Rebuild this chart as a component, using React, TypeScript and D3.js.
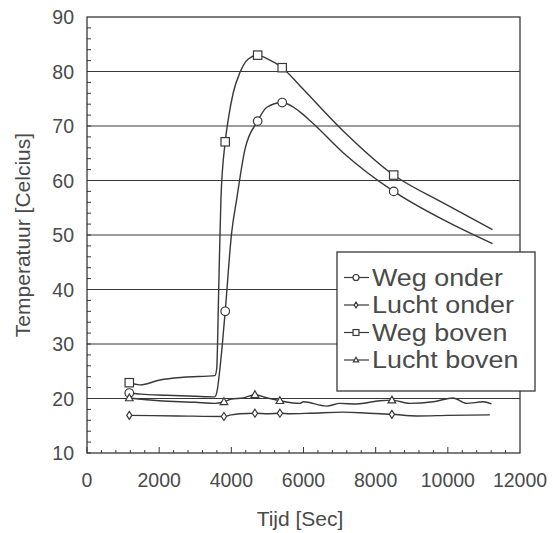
import React from 'react';
import * as d3 from 'd3';

// tijd [s], temperatuur [C]
const wegOnder: [number, number][] = [
  [1172, 21.0], [1500, 20.8], [2200, 20.6], [3000, 20.4], [3546, 20.3], [3600, 21.2],
  [3700, 26.5], [3830, 36], [4008, 50.4], [4147, 56.5], [4377, 65.7], [4730, 70.9],
  [4977, 73.4], [5410, 74.3], [5900, 72.6], [6260, 70.5], [7100, 65.1], [8500, 58.0],
  [9870, 52.8], [11238, 48.4],
];
const wegOnderMarks: [number, number][] = [[1172, 21.0], [3830, 36], [4730, 70.9], [5410, 74.3], [8500, 58.0]];

const wegBoven: [number, number][] = [
  [1172, 22.9], [1468, 22.5], [2022, 23.4], [2668, 23.9], [3546, 24.2], [3595, 25.5],
  [3650, 40], [3711, 56.5], [3830, 67.1], [3915, 71.2], [4053, 76.1], [4238, 79.8],
  [4470, 82.3], [4730, 83.0], [5000, 82.3], [5410, 80.7], [5900, 77.4], [7100, 69.1],
  [8500, 61.0], [9870, 55.9], [11238, 51.0],
];
const wegBovenMarks: [number, number][] = [[1172, 22.9], [3830, 67.1], [4730, 83.0], [5410, 80.7], [8500, 61.0]];

const luchtOnder: [number, number][] = [
  [1172, 16.9], [2500, 16.8], [3795, 16.7], [4000, 17.0], [4238, 17.2], [4654, 17.3],
  [5000, 17.2], [5346, 17.3], [5623, 17.2], [6200, 17.3], [7100, 17.5], [7800, 17.3],
  [8450, 17.1], [9133, 16.8], [10000, 16.9], [11163, 17.0],
];
const luchtOnderMarks: [number, number][] = [[1172, 16.9], [3795, 16.7], [4654, 17.3], [5346, 17.3], [8450, 17.1]];

const luchtBoven: [number, number][] = [
  [1172, 20.1], [2000, 19.6], [3000, 19.3], [3546, 19.1], [3795, 19.4], [4000, 19.9],
  [4330, 20.1], [4654, 20.7], [5000, 20.1], [5346, 19.6], [5900, 19.1], [5992, 19.4],
  [6640, 18.6], [7008, 19.1], [7470, 19.0], [8116, 19.6], [8450, 19.7], [8947, 19.1],
  [9593, 19.4], [10147, 20.1], [10517, 19.1], [10979, 19.4], [11210, 19.0],
];
const luchtBovenMarks: [number, number][] = [[1172, 20.1], [3795, 19.4], [4654, 20.7], [5346, 19.6], [8450, 19.7]];

const legendLabels = ['Weg onder', 'Lucht onder', 'Weg boven', 'Lucht boven'];
const yTicks = [10, 20, 30, 40, 50, 60, 70, 80, 90];
const xTicks = [0, 2000, 4000, 6000, 8000, 10000, 12000];

const ink = '#383838';
const textInk = '#4a4a4a';
const font = 'Liberation Sans, Arial, Helvetica, sans-serif';

function Marker({ type, x, y, s = 1 }: { type: string; x: number; y: number; s?: number }) {
  const p = { fill: '#fff', stroke: ink, strokeWidth: 1.2 };
  if (type === 'circle') return <circle cx={x} cy={y} r={4.3 * s} {...p} />;
  if (type === 'square') return <rect x={x - 4.2 * s} y={y - 4.2 * s} width={8.4 * s} height={8.4 * s} {...p} />;
  if (type === 'diamond')
    return <path d={`M${x},${y - 4 * s}L${x + 2.6 * s},${y}L${x},${y + 4 * s}L${x - 2.6 * s},${y}Z`} {...p} />;
  return <path d={`M${x},${y - 4 * s}L${x + 3.8 * s},${y + 2.8 * s}L${x - 3.8 * s},${y + 2.8 * s}Z`} {...p} />;
}

export default function App() {
  const left = 87, right = 520, top = 17, bottom = 453;
  const x = d3.scaleLinear().domain([0, 12000]).range([left, right]);
  const y = d3.scaleLinear().domain([10, 90]).range([bottom, top]);
  const line = d3.line<[number, number]>().x(d => x(d[0])).y(d => y(d[1])).curve(d3.curveMonotoneX);

  const series = [
    { data: wegOnder, marks: wegOnderMarks, type: 'circle' },
    { data: luchtOnder, marks: luchtOnderMarks, type: 'diamond' },
    { data: wegBoven, marks: wegBovenMarks, type: 'square' },
    { data: luchtBoven, marks: luchtBovenMarks, type: 'triangle' },
  ];

  const yMinor = d3.range(10, 90, 2);
  const xMinor = d3.range(0, 12000, 400);

  return (
    <svg width={553} height={533} style={{ position: 'absolute', left: 0, top: 0, background: '#fff' }}>
      {/* grid */}
      {yTicks.slice(1, -1).map(t => (
        <line key={'g' + t} x1={left} x2={right} y1={y(t)} y2={y(t)} stroke={ink} strokeWidth={1} />
      ))}
      {/* minor ticks */}
      {yMinor.map(t => (
        <line key={'ym' + t} x1={left} x2={left + 4} y1={y(t)} y2={y(t)} stroke={ink} strokeWidth={1} />
      ))}
      {xMinor.map(t => (
        <line key={'xm' + t} x1={x(t)} x2={x(t)} y1={bottom} y2={bottom - (t % 2000 === 0 ? 6 : 3)} stroke={ink} strokeWidth={1} />
      ))}
      <rect x={left} y={top} width={right - left} height={bottom - top} fill="none" stroke={ink} strokeWidth={1.3} />

      {series.map((s, i) => (
        <g key={i}>
          <path d={line(s.data) || ''} fill="none" stroke={ink} strokeWidth={1.4} />
          {s.marks.map((m, j) => (
            <Marker key={j} type={s.type} x={x(m[0])} y={y(m[1])} />
          ))}
        </g>
      ))}

      {/* axis labels */}
      {yTicks.map(t => (
        <text key={'yl' + t} x={74} y={y(t)} dy="0.36em" textAnchor="end" fontSize={19.5} fontFamily={font} fill={textInk}>
          {t}
        </text>
      ))}
      {xTicks.map(t => (
        <text key={'xl' + t} x={x(t)} y={487} textAnchor="middle" fontSize={19.5} fontFamily={font} fill={textInk}>
          {t}
        </text>
      ))}
      <text x={300} y={526} textAnchor="middle" fontSize={21} fontFamily={font} fill={textInk}>
        Tijd [Sec]
      </text>
      <text
        transform={`translate(30,${(top + bottom) / 2}) rotate(-90)`}
        textAnchor="middle"
        fontSize={21}
        fontFamily={font}
        fill={textInk}
      >
        Temperatuur [Celcius]
      </text>

      {/* legend */}
      <rect x={337} y={252} width={198} height={139} fill="#fff" stroke={ink} strokeWidth={1.3} />
      {legendLabels.map((lab, i) => {
        const by = 285.5 + i * 27.5;
        return (
          <g key={lab}>
            <line x1={344} x2={369} y1={by - 8} y2={by - 8} stroke={ink} strokeWidth={1.2} />
            <Marker type={series[i].type} x={356} y={by - 8} s={0.7} />
            <text
              transform={`translate(372,${by}) scale(1.12,1)`}
              fontSize={24}
              fontFamily={font}
              fill={textInk}
            >
              {lab}
            </text>
          </g>
        );
      })}
    </svg>
  );
}
